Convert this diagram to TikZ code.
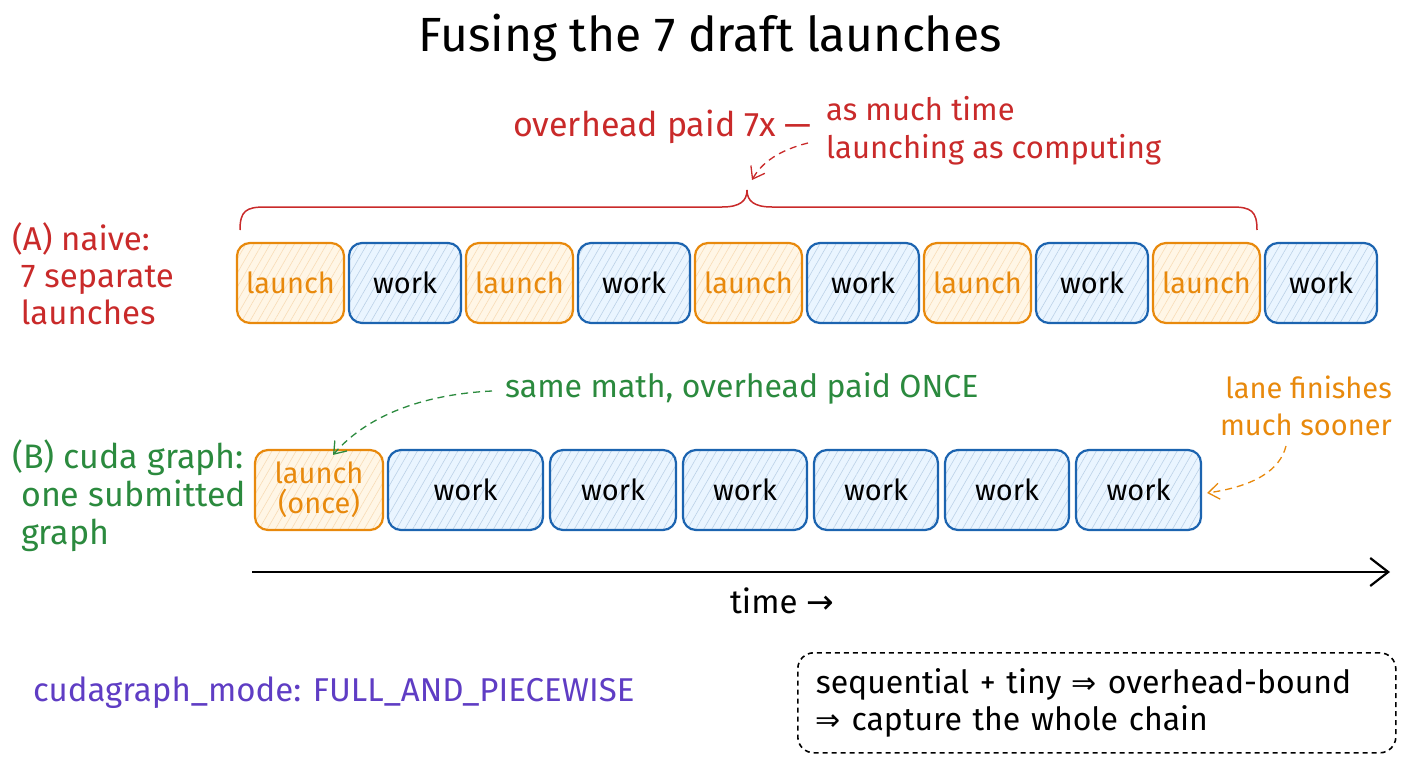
\documentclass[tikz,border=0pt]{standalone}
\usepackage{fontspec}
\setmainfont{Fira Sans}
\newfontfamily\symf{DejaVu Sans}
\usetikzlibrary{arrows.meta,patterns.meta}
\definecolor{cRed}{HTML}{C92A2A}
\definecolor{cGreen}{HTML}{2B8A3E}
\definecolor{cOrange}{HTML}{E8890C}
\definecolor{cBlue}{HTML}{1C64B0}
\definecolor{cPurple}{HTML}{5F3DC4}
\definecolor{cOrFill}{HTML}{FFF6E6}
\definecolor{cBlFill}{HTML}{EAF5FF}
\tikzset{
  box/.style={rounded corners=13pt, line width=2.2pt, minimum height=80pt, inner sep=0pt,
    font=\fontsize{29}{31}\selectfont, align=center},
  lbox/.style={box, draw=cOrange, text=cOrange, preaction={fill=cOrFill},
    pattern={Lines[angle=60,distance=7pt,line width=0.6pt]}, pattern color=cOrange!30},
  wbox/.style={box, draw=cBlue, text=black, preaction={fill=cBlFill},
    pattern={Lines[angle=60,distance=7pt,line width=0.6pt]}, pattern color=cBlue!30},
  lbl/.style={font=\fontsize{33}{37}\selectfont, align=left, inner sep=0pt},
  darr/.style={dashed, dash pattern=on 7pt off 5pt, line width=1.3pt, -{Straight Barb[length=11pt,width=16pt,line width=1.3pt]}},
}
\begin{document}
\begin{tikzpicture}[x=1pt,y=-1pt]
\useasboundingbox (0,0) rectangle (1408,768);

\node[inner sep=0pt] (title) at (710,38) {\fontsize{48}{52}\selectfont Fusing the 7 draft launches};

% row A
\node[lbox, minimum width=107pt] (a1) at (290.5,283) {launch};
\node[wbox, minimum width=112pt] (a2) at (405,283) {work};
\node[lbox, minimum width=107pt] (a3) at (519.5,283) {launch};
\node[wbox, minimum width=112pt] (a4) at (634,283) {work};
\node[lbox, minimum width=107pt] (a5) at (748.5,283) {launch};
\node[wbox, minimum width=112pt] (a6) at (863,283) {work};
\node[lbox, minimum width=107pt] (a7) at (977.5,283) {launch};
\node[wbox, minimum width=112pt] (a8) at (1092,283) {work};
\node[lbox, minimum width=107pt] (a9) at (1206.5,283) {launch};
\node[wbox, minimum width=112pt] (a10) at (1321,283) {work};

\node[lbl, text=cRed, anchor=north west] (labA) at (12,222) {(A) naive:\\\ 7 separate\\\ launches};

% brace
\coordinate (bt) at (747,190);
\draw[cRed, line width=1.5pt] (240,230) .. controls (240,211) and (246,207) .. (265,207) -- (722,207)
  .. controls (740,207) and (747,201) .. (bt) .. controls (747,201) and (754,207) .. (772,207)
  -- (1232,207) .. controls (1251,207) and (1257,211) .. (1257,230);

\node[font=\fontsize{34}{37}\selectfont, text=cRed, anchor=east, inner sep=0pt] (ovA) at (812,127) {overhead paid 7x —};
\node[font=\fontsize{31}{38}\selectfont, align=left, inner sep=0pt, text=cRed, anchor=west] (ovB) at (826,131) {as much time\\launching as computing};
\coordinate (ovS) at (808,143);
\coordinate (ovE) at (752,180);
\draw[darr, cRed] (ovS) .. controls (780,150) and (762,162) .. (ovE);

% row B
\node[lbox, minimum width=128pt] (b1) at (319,490) {launch\\[-1pt](once)};
\node[wbox, minimum width=155pt] (b2) at (465.5,490) {work};
\node[wbox, minimum width=126pt] (b3) at (613,490) {work};
\node[wbox, minimum width=124pt] (b4) at (745,490) {work};
\node[wbox, minimum width=124pt] (b5) at (876,490) {work};
\node[wbox, minimum width=124pt] (b6) at (1007,490) {work};
\node[wbox, minimum width=125pt] (b7) at (1138.5,490) {work};

\node[font=\fontsize{34}{38}\selectfont, align=left, inner sep=0pt, text=cGreen, anchor=north west] (labB) at (12,440) {(B) cuda graph:\\\ one submitted\\\ graph};

\node[font=\fontsize{32}{37}\selectfont, text=cGreen, anchor=west, inner sep=0pt] (same) at (505,388) {same math, overhead paid ONCE};
\coordinate (sameS) at (492,391);
\draw[darr, cGreen] (sameS) .. controls (430,394) and (370,412) .. ([xshift=14pt,yshift=-6pt]b1.north);

\node[font=\fontsize{29}{37}\selectfont, inner sep=0pt, text=cOrange, anchor=east, align=right] (lane) at (1392,406) {lane finishes\\much sooner};
\coordinate (laneS) at (1286,446);
\draw[darr, cOrange] (laneS) .. controls (1280,470) and (1255,486) .. ([xshift=5pt,yshift=-3pt]b7.east);

% timeline
\coordinate (t0) at (252,572);
\coordinate (t1) at (1390,572);
\draw[line width=2.5pt, -{Straight Barb[length=18pt,width=28pt,line width=2.2pt]}] (t0) -- (t1);
\node[font=\fontsize{33}{36}\selectfont, inner sep=0pt] (time) at (782,601) {time {\symf\fontsize{33}{36}\selectfont →}};

% bottom
\node[font=\fontsize{33}{36}\selectfont, text=cPurple, anchor=west, inner sep=0pt] (mode) at (33,693) {cudagraph\_mode: FULL\_AND\_PIECEWISE};
\node[draw, dashed, dash pattern=on 5pt off 4pt, line width=1.6pt, rounded corners=16pt,
  minimum width=598pt, minimum height=100pt, anchor=north west,
  font=\fontsize{32}{37}\selectfont, align=left, text width=580pt, inner sep=0pt] (note) at (797,652)
  {\hspace*{9pt}sequential + tiny {\symf\fontsize{30}{30}\selectfont ⇒} overhead-bound\\\hspace*{9pt}{\symf\fontsize{30}{30}\selectfont ⇒} capture the whole chain};
\end{tikzpicture}
\end{document}
